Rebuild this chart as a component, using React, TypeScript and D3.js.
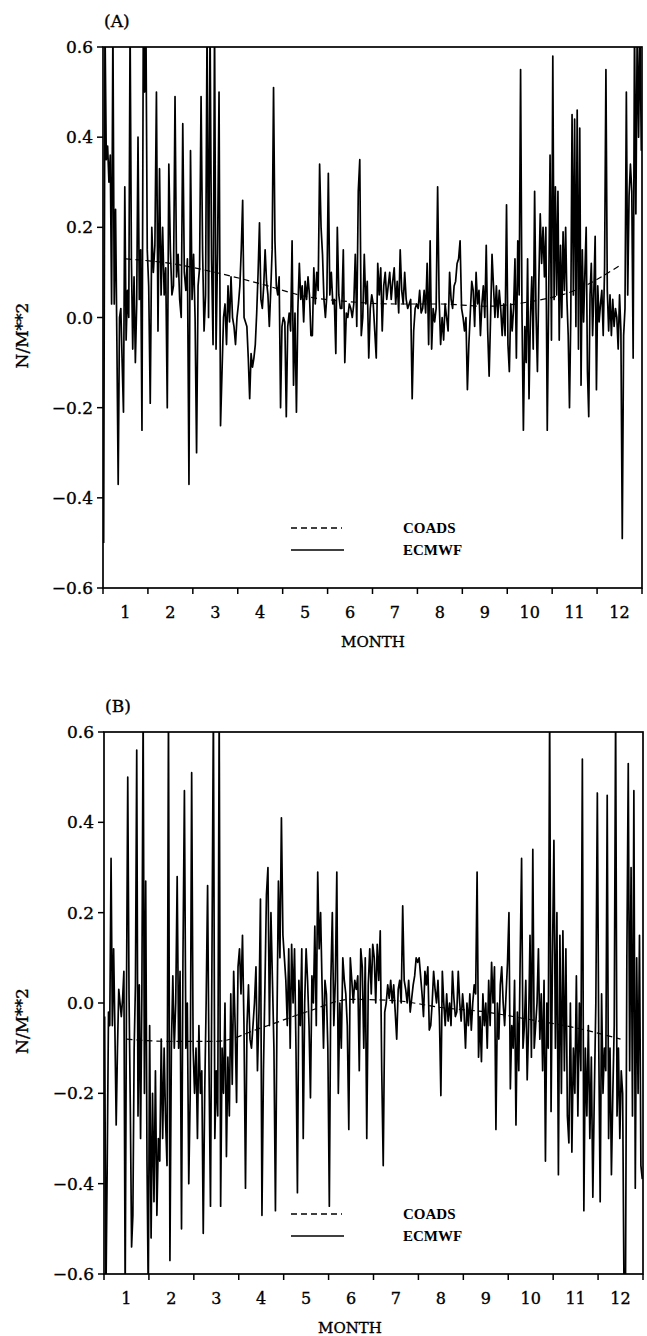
import React from 'react';
import * as d3 from 'd3';

// ---------- data ----------
const MONTH_LABELS = ['1', '2', '3', '4', '5', '6', '7', '8', '9', '10', '11', '12'];
const Y_TICKS = [-0.6, -0.4, -0.2, 0, 0.2, 0.4, 0.6];
const SERIES_NAMES = ['COADS', 'ECMWF'];

// COADS monthly climatology (mid-month values)
const coadsA = [0.13, 0.12, 0.1, 0.075, 0.047, 0.035, 0.03, 0.03, 0.025, 0.035, 0.06, 0.115];
const coadsB = [-0.08, -0.085, -0.085, -0.055, -0.02, 0.008, 0.005, -0.01, -0.02, -0.037, -0.055, -0.08];

// ECMWF daily values, panel (A), one list per month
const ecmwfA: number[][] = [
  [-0.5, 0.65, 0.35, 0.38, 0.3, 0.36, 0.03, 0.65, 0.03, 0.24, -0.05, -0.37, 0.0, 0.02, -0.1, -0.21, 0.29, -0.05, 0.06, 0.0, 0.65, 0.13, -0.07, 0.09, -0.1, 0.03, 0.4, 0.04, 0.15, -0.25, 0.65, 0.5, 0.65, 0.15],
  [0.07, -0.19, 0.2, 0.1, 0.16, 0.5, -0.03, 0.33, 0.05, 0.2, 0.05, 0.11, -0.2, 0.34, 0.15, 0.05, 0.07, 0.49, 0.09, 0.14, 0.04, 0.0, 0.43, 0.1, 0.06, 0.13, -0.37, 0.37, 0.04],
  [0.14, 0.0, -0.3, 0.07, 0.11, 0.49, 0.15, -0.03, 0.05, 0.65, 0.0, 0.65, 0.13, -0.06, 0.65, -0.07, 0.14, 0.5, -0.24, -0.12, 0.0, 0.03, -0.06, 0.07, -0.01, 0.09, 0.0, -0.02, -0.06, 0.0],
  [0.03, 0.07, 0.15, 0.26, 0.0, -0.01, -0.02, -0.09, -0.18, -0.08, -0.11, -0.09, -0.06, 0.01, 0.1, 0.21, 0.04, 0.02, 0.07, 0.15, 0.08, 0.05, -0.02, 0.06, 0.15, 0.51, 0.17, 0.07, 0.05, 0.09, -0.2, -0.02],
  [0.0, -0.01, -0.22, -0.02, 0.01, -0.03, 0.17, -0.15, 0.01, -0.21, 0.02, 0.12, 0.04, 0.07, -0.01, 0.08, 0.04, 0.09, 0.05, -0.04, -0.04, 0.11, 0.03, 0.1, 0.06, 0.34, 0.2, 0.14, 0.04, 0.0, 0.05],
  [0.32, 0.05, 0.1, 0.03, 0.04, -0.08, 0.2, 0.05, 0.02, 0.02, 0.15, -0.1, 0.01, 0.0, 0.03, 0.02, 0.0, 0.03, 0.14, -0.02, 0.28, 0.35, -0.04, 0.0, 0.14, 0.03, 0.08, -0.09, 0.02, 0.05],
  [0.03, -0.03, -0.09, 0.12, 0.05, 0.11, -0.03, 0.07, 0.1, 0.04, 0.07, 0.1, 0.04, 0.08, 0.11, 0.03, 0.08, 0.01, 0.15, 0.06, 0.03, 0.1, 0.04, 0.02, 0.03, 0.04, -0.18, -0.03, 0.02, 0.03],
  [0.02, 0.06, 0.01, 0.02, 0.06, 0.01, 0.12, -0.06, 0.17, -0.07, 0.02, -0.01, 0.02, 0.29, 0.04, -0.06, 0.0, -0.05, 0.03, 0.0, -0.03, 0.1, 0.04, 0.02, 0.07, 0.08, 0.12, 0.13, 0.17, 0.02],
  [0.0, -0.03, 0.0, -0.16, -0.06, 0.01, 0.08, 0.06, -0.02, 0.1, 0.03, 0.06, -0.04, 0.03, 0.07, 0.0, 0.16, -0.03, -0.13, 0.0, 0.14, 0.07, 0.0, 0.07, 0.0, 0.06, 0.02, -0.04, 0.03, -0.04, 0.25],
  [-0.06, -0.12, 0.03, -0.03, 0.02, 0.13, -0.09, 0.17, 0.05, 0.55, 0.01, -0.25, -0.02, -0.1, 0.13, -0.18, 0.0, 0.09, -0.07, 0.28, 0.01, -0.12, 0.08, 0.23, 0.12, 0.2, 0.09, 0.2, -0.25, 0.04, 0.36, -0.05],
  [0.58, 0.04, 0.29, 0.05, 0.28, -0.05, 0.16, 0.0, 0.19, 0.06, 0.2, 0.04, -0.04, -0.2, 0.0, 0.45, 0.05, 0.44, -0.02, 0.46, -0.07, 0.42, -0.15, 0.15, -0.01, 0.1, 0.2, -0.12, -0.22, 0.05, 0.12, -0.04, 0.06, 0.18, -0.16],
  [0.07, -0.01, 0.03, 0.06, -0.04, 0.11, 0.55, 0.06, -0.03, 0.05, -0.04, 0.04, -0.02, 0.02, 0.0, -0.07, 0.05, -0.03, -0.49, -0.04, 0.02, 0.5, 0.05, 0.27, 0.34, 0.28, -0.09, 0.65, 0.23, 0.65, 0.4, 0.65, 0.37],
];

// ECMWF daily values, panel (B), one list per month
const ecmwfB: number[][] = [
  [-0.03, -0.65, -0.36, -0.02, -0.05, 0.32, -0.05, 0.12, -0.06, -0.27, -0.1, 0.03, 0.0, -0.03, 0.01, 0.07, -0.65, 0.0, 0.5, 0.02, -0.23, -0.54, -0.47, -0.1, 0.04, 0.56, -0.25, 0.04, -0.3, 0.02, 0.65, -0.2, 0.27, -0.35, -0.65],
  [-0.05, -0.52, -0.2, -0.44, -0.15, -0.47, -0.3, -0.35, -0.08, -0.3, -0.1, -0.26, -0.36, 0.65, -0.57, -0.1, 0.06, -0.1, 0.0, 0.28, -0.1, 0.07, -0.5, 0.1, 0.47, -0.1, 0.0, -0.4, -0.2, 0.51, -0.1],
  [-0.2, -0.1, -0.3, -0.05, -0.2, -0.15, -0.51, -0.2, 0.0, 0.26, -0.15, -0.45, 0.1, 0.65, -0.3, -0.15, -0.25, 0.65, -0.45, -0.1, -0.2, 0.0, -0.34, -0.12, -0.25, 0.02, -0.18, 0.07, -0.05, -0.22, 0.08],
  [0.12, 0.02, 0.15, -0.05, -0.41, -0.05, 0.04, -0.08, -0.1, -0.05, 0.0, 0.08, -0.15, -0.02, 0.23, -0.47, -0.15, 0.04, 0.24, 0.3, -0.05, 0.2, 0.05, -0.1, -0.46, -0.05, 0.27, 0.1, 0.41, 0.15],
  [0.1, 0.05, -0.05, 0.12, -0.1, 0.13, 0.0, 0.12, -0.1, -0.42, 0.05, -0.05, 0.12, -0.3, 0.0, 0.12, 0.05, -0.05, -0.21, 0.06, 0.0, 0.17, -0.05, 0.29, 0.12, 0.2, 0.04, -0.1, 0.05, 0.02, -0.1],
  [-0.45, 0.05, 0.2, -0.05, 0.05, 0.29, -0.2, 0.0, -0.1, 0.1, 0.05, 0.02, -0.05, -0.28, 0.1, 0.05, 0.0, 0.05, 0.03, 0.06, -0.15, 0.12, 0.08, -0.1, 0.1, -0.3, 0.04, 0.12, 0.02, 0.13],
  [0.1, 0.0, 0.13, 0.05, 0.16, -0.15, -0.36, -0.02, 0.0, 0.04, 0.01, 0.05, 0.0, 0.04, -0.02, -0.08, 0.03, 0.05, 0.0, 0.215, 0.05, 0.03, 0.0, 0.05, -0.02, 0.01, 0.04, 0.06, 0.1, 0.09],
  [0.1, 0.06, 0.02, -0.03, 0.07, 0.04, 0.08, -0.06, -0.05, 0.0, 0.07, 0.03, 0.0, 0.05, -0.03, -0.205, 0.07, 0.0, -0.05, 0.02, -0.04, 0.0, -0.05, 0.07, 0.01, -0.03, -0.02, 0.07, 0.0, -0.04, 0.02],
  [-0.02, -0.1, 0.0, -0.05, 0.02, -0.06, 0.0, 0.04, 0.02, 0.29, -0.12, -0.03, -0.13, 0.02, -0.05, 0.0, -0.1, 0.05, -0.05, 0.09, 0.0, 0.08, -0.28, 0.0, -0.08, 0.04, 0.08, 0.0, -0.05, 0.02, 0.09],
  [0.2, -0.19, -0.05, -0.1, 0.05, -0.27, -0.02, -0.15, 0.1, 0.32, -0.1, -0.05, 0.05, -0.17, -0.05, 0.15, -0.12, 0.34, -0.1, -0.05, 0.0, 0.12, -0.08, 0.02, -0.15, 0.05, -0.35, 0.0, -0.1, 0.65, -0.24, 0.1],
  [0.36, -0.1, 0.2, -0.38, 0.15, -0.2, 0.16, -0.15, 0.12, -0.25, -0.31, 0.0, -0.33, -0.1, -0.2, 0.06, -0.25, 0.0, -0.15, 0.54, -0.46, -0.1, -0.25, -0.05, -0.3, -0.12, -0.43, -0.2, 0.0, 0.465],
  [-0.1, -0.44, 0.02, -0.2, -0.1, -0.15, 0.46, -0.3, -0.1, -0.38, -0.2, -0.05, 0.65, -0.25, -0.1, -0.3, -0.15, -0.2, -0.65, -0.65, 0.1, 0.53, -0.15, 0.3, -0.25, 0.47, -0.41, 0.1, -0.2, 0.15, -0.36, -0.39],
];

// ---------- drawing ----------
const FONT = '"DejaVu Serif", serif';
const LEGEND_FONT = '"Liberation Serif", serif';
const INK = { stroke: '#000', strokeWidth: 0.35 };

type Box = { left: number; right: number; top: number; bottom: number };
type Pt = { t: number; v: number };

function fmt(v: number) {
  const s = Math.abs(v).toFixed(1);
  return v < 0 ? '\u2212' + s : s;
}

function Panel(props: {
  id: string;
  tag: string;
  box: Box;
  ecmwf: number[][];
  coads: number[];
  monthX: number;
  monthY: number;
}) {
  const { id, tag, box, ecmwf, coads, monthX, monthY } = props;
  const x = d3.scaleLinear().domain([0, 12]).range([box.left, box.right]);
  const y = d3.scaleLinear().domain([-0.6, 0.6]).range([box.bottom, box.top]);

  const pts: Pt[] = ecmwf.flatMap((arr, m) => arr.map((v, j) => ({ t: m + (j + 0.5) / arr.length, v })));
  const cpts: Pt[] = coads.map((v, m) => ({ t: m + 0.5, v }));

  const line = d3.line<Pt>().x((d) => x(d.t)).y((d) => y(d.v));
  const cline = d3.line<Pt>().x((d) => x(d.t)).y((d) => y(d.v)).curve(d3.curveMonotoneX);

  const monthTicks = d3.range(0, 13);
  const legX0 = 291;
  const legX1 = 344;
  const legY1 = box.bottom - 60;
  const legY2 = box.bottom - 38;

  return (
    <g>
      <defs>
        <clipPath id={`clip-${id}`}>
          <rect x={box.left} y={box.top} width={box.right - box.left} height={box.bottom - box.top} />
        </clipPath>
      </defs>
      <text x={box.left + 1} y={box.top - 20} fontFamily={FONT} fontSize={17} {...INK}>
        {tag}
      </text>
      <g clipPath={`url(#clip-${id})`}>
        <path d={cline(cpts) || ''} fill="none" stroke="#000" strokeWidth={1.2} strokeDasharray="6,4" />
        <path d={line(pts) || ''} fill="none" stroke="#000" strokeWidth={1.7} strokeLinejoin="round" />
      </g>
      <rect
        x={box.left}
        y={box.top}
        width={box.right - box.left}
        height={box.bottom - box.top}
        fill="none"
        stroke="#000"
        strokeWidth={1.7}
      />
      {Y_TICKS.map((t) => (
        <g key={`y${t}`}>
          <line x1={box.left - 6} x2={box.left} y1={y(t)} y2={y(t)} stroke="#000" strokeWidth={1.5} />
          <text
            x={box.left - 10}
            y={y(t) + 6}
            textAnchor="end"
            fontFamily={FONT}
            fontSize={17}
            {...INK}
          >
            {fmt(t)}
          </text>
        </g>
      ))}
      {monthTicks.map((k) => (
        <line key={`m${k}`} x1={x(k)} x2={x(k)} y1={box.bottom} y2={box.bottom + 6} stroke="#000" strokeWidth={1.5} />
      ))}
      {MONTH_LABELS.map((lab, i) => (
        <text
          key={`ml${i}`}
          x={x(i + 0.5)}
          y={box.bottom + 30}
          textAnchor="middle"
          fontFamily={FONT}
          fontSize={16}
          {...INK}
        >
          {lab}
        </text>
      ))}
      <text x={monthX} y={monthY} textAnchor="middle" fontFamily={FONT} fontSize={15} {...INK}>
        MONTH
      </text>
      <text
        transform={`translate(28,${(box.top + box.bottom) / 2 + 18}) rotate(-90)`}
        textAnchor="middle"
        fontFamily={FONT}
        fontSize={17}
        {...INK}
      >
        N/M**2
      </text>
      {/* legend */}
      <line x1={legX0} x2={legX1 - 2} y1={legY1} y2={legY1} stroke="#000" strokeWidth={1.3} strokeDasharray="6,4" />
      <line x1={legX0} x2={legX1} y1={legY2} y2={legY2} stroke="#000" strokeWidth={1.5} />
      <text x={403} y={legY1 + 5} fontFamily={LEGEND_FONT} fontWeight="bold" fontSize={15}>
        {SERIES_NAMES[0]}
      </text>
      <text x={403} y={legY2 + 5} fontFamily={LEGEND_FONT} fontWeight="bold" fontSize={15}>
        {SERIES_NAMES[1]}
      </text>
    </g>
  );
}

export default function App() {
  return (
    <svg
      width={647}
      height={1336}
      viewBox="0 0 647 1336"
      style={{ position: 'absolute', left: 0, top: 0, display: 'block', background: '#fff' }}
    >
      <rect x={0} y={0} width={647} height={1336} fill="#fff" />
      <Panel
        id="A"
        tag="(A)"
        box={{ left: 103, right: 642, top: 47, bottom: 588 }}
        ecmwf={ecmwfA}
        coads={coadsA}
        monthX={373}
        monthY={647}
      />
      <Panel
        id="B"
        tag="(B)"
        box={{ left: 104, right: 643, top: 732, bottom: 1274 }}
        ecmwf={ecmwfB}
        coads={coadsB}
        monthX={350}
        monthY={1333}
      />
    </svg>
  );
}
